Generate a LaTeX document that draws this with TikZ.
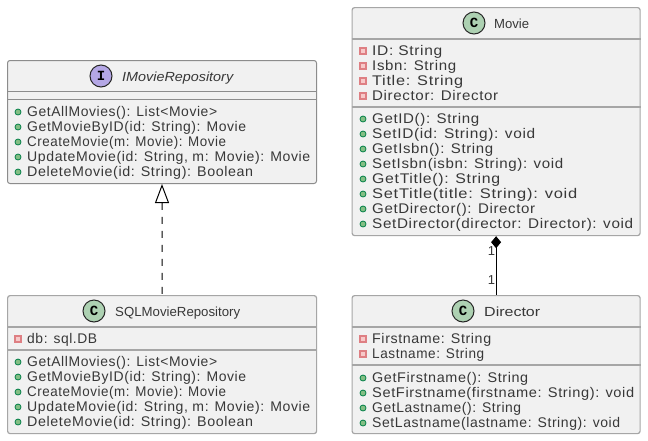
\documentclass[tikz,border=0pt]{standalone}
\usepackage{graphicx}
\usepackage{fontspec}
\setmainfont{Liberation Sans}
\newfontfamily\memberfont[LetterSpace=4.2]{Liberation Sans}
\newfontfamily\badgefont{Liberation Mono}
\usetikzlibrary{arrows.meta}
\definecolor{boxfill}{HTML}{F1F1F1}
\definecolor{boxline}{HTML}{A6A6A6}
\definecolor{ifaceline}{HTML}{8C8C8C}
\definecolor{ink}{HTML}{383838}
\definecolor{pubfill}{HTML}{84BE84}
\definecolor{publine}{HTML}{038048}
\definecolor{privfill}{HTML}{F7C9C9}
\definecolor{privline}{HTML}{C82930}
\definecolor{cfill}{HTML}{ADD1B2}
\definecolor{ifill}{HTML}{B4A7E5}
\tikzset{
  x=1pt,y=-1pt,
  classbox/.style={draw=boxline,fill=boxfill,line width=1.2pt,rounded corners=2.5pt,inner sep=0,anchor=north west},
  ifacebox/.style={classbox,draw=ifaceline,line width=1pt},
  sepline/.style={draw=boxline,line width=1.2pt},
  ifacesep/.style={draw=ifaceline,line width=1pt},
  member/.style={anchor=base west,inner sep=0,text=ink,font=\memberfont\fontsize{14}{15}\selectfont},
  titletext/.style={anchor=base west,inner sep=0,text=ink,font=\fontsize{13.2}{15}\selectfont},
  badge/.style={circle,draw=black!85,line width=1pt,minimum size=22pt,inner sep=0,font=\badgefont\bfseries\fontsize{14}{14}\selectfont},
  pubdot/.style={circle,fill=pubfill,draw=publine,line width=.8pt,minimum size=6pt,inner sep=0},
  privdot/.style={rectangle,fill=privfill,draw=privline!60,line width=1.2pt,minimum size=6pt,inner sep=0},
  mult/.style={inner sep=0,text=ink,font=\fontsize{13}{15}\selectfont},
}
% x of the marker, y of the row, x where the text ends, text
\newcommand{\fittext}[3]{\resizebox{\dimexpr #2pt-#1pt-9pt\relax}{\height}{#3}}
\newcommand{\rowpub}[4]{\node[pubdot] at (#1,#2) {}; \node[member] at (#1+9,#2+4.8) {\fittext{#1}{#3}{#4}};}
\newcommand{\rowpriv}[4]{\node[privdot] at (#1,#2) {}; \node[member] at (#1+9,#2+4.8) {\fittext{#1}{#3}{#4}};}
\begin{document}
\begin{tikzpicture}
\useasboundingbox (0,0) rectangle (648,440);
\fill[white] (0,0) rectangle (648,440);

% IMovieRepository
\node[ifacebox,minimum width=309pt,minimum height=123pt] (irepo) at (7,60) {};
\node[badge,fill=ifill] (irepob) at (101,76) {I};
\node[titletext,font=\itshape\fontsize{13.2}{15}\selectfont] (irepot) at (122,81) {\resizebox{111pt}{\height}{IMovieRepository}};
\draw[ifacesep] (irepo.west |- 0,91) -- (irepo.east |- 0,91);
\draw[ifacesep] (irepo.west |- 0,99) -- (irepo.east |- 0,99);
\rowpub{18}{112}{217}{GetAllMovies(): List<Movie>}
\rowpub{18}{127}{246}{GetMovieByID(id: String): Movie}
\rowpub{18}{142}{226}{CreateMovie(m: Movie): Movie}
\rowpub{18}{157}{310}{UpdateMovie(id: String, m: Movie): Movie}
\rowpub{18}{172}{253}{DeleteMovie(id: String): Boolean}

% SQLMovieRepository
\node[classbox,minimum width=309pt,minimum height=138pt] (sqlrepo) at (7,295) {};
\node[badge,fill=cfill] (sqlb) at (94,311) {C};
\node[titletext] (sqlt) at (115,316) {\resizebox{125pt}{\height}{SQLMovieRepository}};
\draw[sepline] (sqlrepo.west |- 0,327) -- (sqlrepo.east |- 0,327);
\draw[sepline] (sqlrepo.west |- 0,350) -- (sqlrepo.east |- 0,350);
\rowpriv{18}{339}{97}{db: sql.DB}
\rowpub{18}{362}{217}{GetAllMovies(): List<Movie>}
\rowpub{18}{377}{246}{GetMovieByID(id: String): Movie}
\rowpub{18}{392}{226}{CreateMovie(m: Movie): Movie}
\rowpub{18}{407}{310}{UpdateMovie(id: String, m: Movie): Movie}
\rowpub{18}{422}{253}{DeleteMovie(id: String): Boolean}

% Movie
\node[classbox,minimum width=288pt,minimum height=228pt] (movie) at (351.5,7) {};
\node[badge,fill=cfill] (movieb) at (474,23) {C};
\node[titletext] (moviet) at (494,28) {\resizebox{35pt}{\height}{Movie}};
\draw[sepline] (movie.west |- 0,39) -- (movie.east |- 0,39);
\draw[sepline] (movie.west |- 0,107) -- (movie.east |- 0,107);
\rowpriv{363}{51}{442}{ID: String}
\rowpriv{363}{66}{456}{Isbn: String}
\rowpriv{363}{81}{463}{Title: String}
\rowpriv{363}{96}{498}{Director: Director}
\rowpub{363}{119}{479}{GetID(): String}
\rowpub{363}{134}{535}{SetID(id: String): void}
\rowpub{363}{149}{493}{GetIsbn(): String}
\rowpub{363}{164}{563}{SetIsbn(isbn: String): void}
\rowpub{363}{179}{500}{GetTitle(): String}
\rowpub{363}{194}{577}{SetTitle(title: String): void}
\rowpub{363}{209}{535}{GetDirector(): Director}
\rowpub{363}{224}{633}{SetDirector(director: Director): void}

% Director
\node[classbox,minimum width=288pt,minimum height=138pt] (director) at (351.5,295) {};
\node[badge,fill=cfill] (directorb) at (463,311) {C};
\node[titletext] (directort) at (484,316) {\resizebox{56pt}{\height}{Director}};
\draw[sepline] (director.west |- 0,327) -- (director.east |- 0,327);
\draw[sepline] (director.west |- 0,365) -- (director.east |- 0,365);
\rowpriv{363}{339}{491}{Firstname: String}
\rowpriv{363}{354}{484}{Lastname: String}
\rowpub{363}{378}{528}{GetFirstname(): String}
\rowpub{363}{393}{634}{SetFirstname(firstname: String): void}
\rowpub{363}{408}{521}{GetLastname(): String}
\rowpub{363}{423}{620}{SetLastname(lastname: String): void}

% Connectors
\draw[black,line width=1pt,dash pattern=on 7pt off 7pt,{Triangle[open,fill=white,length=19pt,width=14pt,line width=1pt]}-] (irepo.south) -- (sqlrepo.north);
\draw[black,line width=1pt,{Diamond[length=12pt,width=10pt]}-] (movie.south) -- (director.north);
\node[mult] (m1) at (491.5,251) {1};
\node[mult] (m2) at (491.5,280) {1};
\end{tikzpicture}
\end{document}
